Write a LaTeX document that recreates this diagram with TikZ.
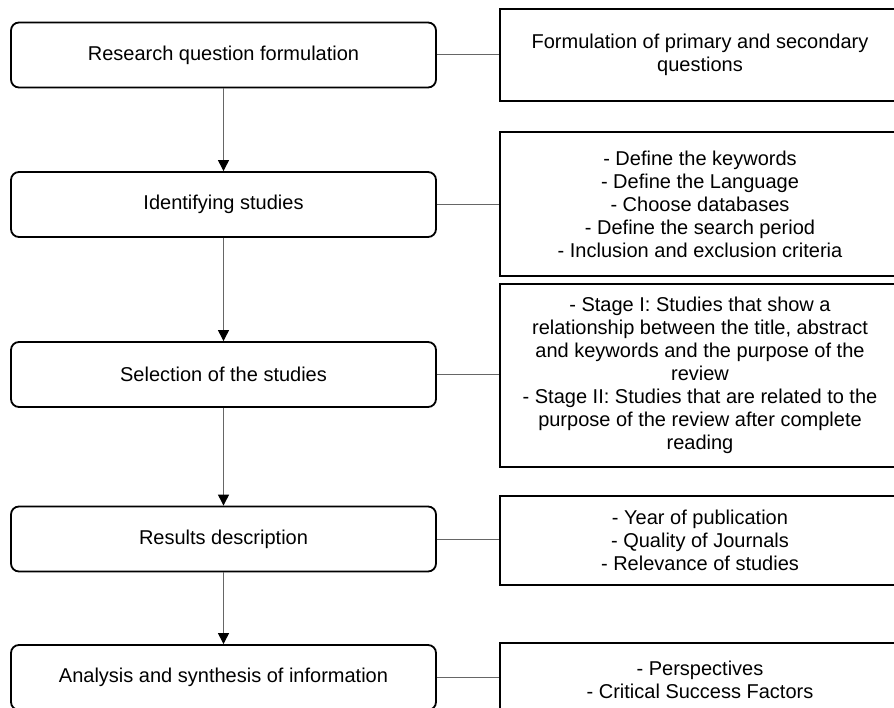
\documentclass[tikz,border=0pt]{standalone}
\usepackage{fontspec}
\setmainfont{Liberation Sans}
\usetikzlibrary{arrows.meta}
\begin{document}
\begin{tikzpicture}[x=1pt,y=-1pt,
  txt/.style={font=\fontsize{20}{23}\selectfont, align=center, inner sep=0pt},
  stepbox/.style={txt, draw=black, line width=1.8pt, rounded corners=8pt,
    minimum width=425pt, minimum height=65pt},
  notebox/.style={txt, draw=black, line width=1.8pt, minimum width=400pt},
  flow/.style={draw=black!60, line width=1pt,
    -{Triangle[length=11pt,width=11pt,color=black,fill=black]}},
  link/.style={draw=black!60, line width=1pt}]
\useasboundingbox (0,0) rectangle (894,708);
\clip (0,0) rectangle (894,708);

% process steps
\node[stepbox] (s1) at (223.5,55)    {Research question formulation};
\node[stepbox] (s2) at (223.5,204.5) {Identifying studies};
\node[stepbox] (s3) at (223.5,374.5) {Selection of the studies};
\node[stepbox] (s4) at (223.5,539)   {Results description};
\node[stepbox] (s5) at (223.5,677.5) {Analysis and synthesis of information};

% details of each step
\node[notebox, minimum height=92pt] (d1) at (700,55)
  {Formulation of primary and secondary\\questions};
\node[notebox, minimum height=144pt] (d2) at (700,204)
  {- Define the keywords\\- Define the Language\\- Choose databases\\
   - Define the search period\\- Inclusion and exclusion criteria};
\node[notebox, minimum height=183pt] (d3) at (700,375.5)
  {- Stage I: Studies that show a\\relationship between the title, abstract\\
   and keywords and the purpose of the\\review\\
   - Stage II: Studies that are related to the\\
   purpose of the review after complete\\reading};
\node[notebox, minimum height=89pt] (d4) at (700,540.5)
  {- Year of publication\\- Quality of Journals\\- Relevance of studies};
\node[notebox, minimum height=74pt] (d5) at (700,680)
  {- Perspectives\\- Critical Success Factors};

% flow between steps
\draw[flow] (s1.south) -- (s2.north);
\draw[flow] (s2.south) -- (s3.north);
\draw[flow] (s3.south) -- (s4.north);
\draw[flow] (s4.south) -- (s5.north);

% links from steps to their details
\foreach \i in {1,...,5}
  \draw[link] (s\i.east) -- (s\i.east -| d\i.west);
\end{tikzpicture}
\end{document}
